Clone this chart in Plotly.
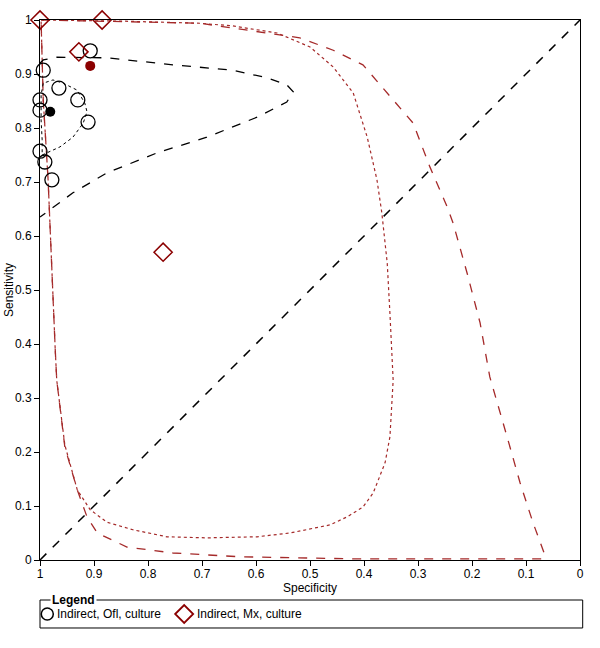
import plotly.graph_objects as go

# Study points: Indirect, Ofl, culture
ofl_spec = [0.907, 0.994, 0.965, 0.930, 1.000, 1.000, 0.911, 1.000, 0.991, 0.978]
ofl_sens = [0.943, 0.907, 0.874, 0.852, 0.852, 0.833, 0.811, 0.757, 0.737, 0.704]
ofl_sum_spec = [0.981]
ofl_sum_sens = [0.830]

# Study points: Indirect, Mx, culture
mx_spec = [1.000, 0.885, 0.928, 0.772]
mx_sens = [1.000, 1.000, 0.941, 0.570]
mx_sum_spec = [0.907]
mx_sum_sens = [0.915]

# Ofl prediction region (dashed) and confidence region (dotted)
ofl_pred_spec = [1.000, 0.994, 0.969, 0.876, 0.754, 0.643, 0.580, 0.543, 0.531,
                 0.543, 0.598, 0.691, 0.783, 0.876, 0.939, 0.981, 1.000]
ofl_pred_sens = [0.920, 0.926, 0.931, 0.930, 0.917, 0.907, 0.893, 0.880, 0.867,
                 0.848, 0.820, 0.783, 0.754, 0.717, 0.680, 0.648, 0.635]
ofl_conf_spec = [0.996, 0.987, 0.963, 0.939, 0.920, 0.913, 0.917, 0.931, 0.957,
                 0.976, 0.994, 0.998, 0.998, 0.996, 0.996]
ofl_conf_sens = [0.750, 0.754, 0.765, 0.783, 0.809, 0.830, 0.846, 0.870, 0.883,
                 0.889, 0.883, 0.861, 0.815, 0.778, 0.750]

# Mx confidence region (dotted)
mx_conf_spec = [0.998, 0.852, 0.704, 0.643, 0.561, 0.500, 0.457, 0.420, 0.394, 0.376,
                0.367, 0.357, 0.352, 0.346, 0.352, 0.361, 0.383, 0.402, 0.431, 0.463,
                0.537, 0.598, 0.691, 0.765, 0.828, 0.876, 0.907, 0.931, 0.954, 0.969,
                0.972, 0.981, 0.985, 0.994, 0.998]
mx_conf_sens = [1.000, 0.998, 0.994, 0.989, 0.976, 0.950, 0.913, 0.865, 0.783, 0.704,
                0.643, 0.550, 0.457, 0.333, 0.228, 0.180, 0.124, 0.098, 0.080, 0.065,
                0.050, 0.043, 0.041, 0.043, 0.056, 0.070, 0.093, 0.130, 0.213, 0.333,
                0.394, 0.598, 0.704, 0.852, 1.000]

# Mx prediction region (dashed)
mx_pred_spec = [0.998, 0.704, 0.519, 0.457, 0.402, 0.357, 0.309, 0.278, 0.246, 0.235,
                0.209, 0.185, 0.167, 0.135, 0.111, 0.087, 0.065, 0.069, 0.413, 0.630,
                0.754, 0.839, 0.894, 0.913, 0.931, 0.954, 0.969, 0.972, 0.981, 0.985,
                0.994, 0.998]
mx_pred_sens = [1.000, 0.994, 0.967, 0.944, 0.917, 0.865, 0.809, 0.728, 0.654, 0.624,
                0.531, 0.439, 0.339, 0.228, 0.143, 0.069, 0.009, 0.002, 0.002, 0.006,
                0.013, 0.024, 0.050, 0.080, 0.130, 0.209, 0.333, 0.394, 0.598, 0.704,
                0.852, 1.000]

diag_spec = [1, 0]
diag_sens = [0, 1]

legend_labels = ["Indirect, Ofl, culture", "Indirect, Mx, culture"]
x_title = "Specificity"
y_title = "Sensitivity"

RED = "#A52A2A"
DRED = "#8B0000"
FONT = "Liberation Sans, Arial, sans-serif"
FS = 12

fig = go.Figure()

fig.add_trace(go.Scatter(x=diag_spec, y=diag_sens, mode="lines",
                         line=dict(color="black", width=1.5, dash="dash"),
                         showlegend=False, hoverinfo="skip"))

fig.add_trace(go.Scatter(x=mx_pred_spec, y=mx_pred_sens, mode="lines",
                         line=dict(color=RED, width=1.3, dash="dash"),
                         showlegend=False, hoverinfo="skip"))
fig.add_trace(go.Scatter(x=mx_conf_spec, y=mx_conf_sens, mode="lines",
                         line=dict(color=RED, width=1.2, dash="dot"),
                         showlegend=False, hoverinfo="skip"))
fig.add_trace(go.Scatter(x=ofl_pred_spec, y=ofl_pred_sens, mode="lines",
                         line=dict(color="black", width=1.3, dash="dash"),
                         showlegend=False, hoverinfo="skip"))
fig.add_trace(go.Scatter(x=ofl_conf_spec, y=ofl_conf_sens, mode="lines",
                         line=dict(color="black", width=1, dash="dot"),
                         showlegend=False, hoverinfo="skip"))

fig.add_trace(go.Scatter(x=ofl_spec, y=ofl_sens, mode="markers",
                         name=legend_labels[0], showlegend=False,
                         marker=dict(symbol="circle-open", size=14,
                                     color="black", line=dict(width=1.3)),
                         cliponaxis=False))
fig.add_trace(go.Scatter(x=mx_spec, y=mx_sens, mode="markers",
                         name=legend_labels[1], showlegend=False,
                         marker=dict(symbol="diamond-open", size=14,
                                     color=DRED, line=dict(width=1.5)),
                         cliponaxis=False))
fig.add_trace(go.Scatter(x=ofl_sum_spec, y=ofl_sum_sens, mode="markers",
                         marker=dict(symbol="circle", size=10, color="black"),
                         showlegend=False, cliponaxis=False))
fig.add_trace(go.Scatter(x=mx_sum_spec, y=mx_sum_sens, mode="markers",
                         marker=dict(symbol="circle", size=10, color=DRED),
                         showlegend=False, cliponaxis=False))

axis_common = dict(showgrid=False, zeroline=False, ticks="outside", ticklen=5,
                   tickwidth=1, tickcolor="black", linecolor="black", linewidth=1,
                   mirror=True, dtick=0.1, tick0=0, automargin=False,
                   tickfont=dict(family=FONT, size=FS, color="black"))

# Custom legend (box with title embedded in the border, symbol + label pairs)
LEG_Y = -0.1                      # centre line of legend entries (paper units)
shapes = [
    dict(type="rect", xref="paper", yref="paper",
         x0=0, x1=1.005, y0=-0.1259, y1=-0.0741,
         line=dict(color="black", width=1), fillcolor="rgba(0,0,0,0)"),
    dict(type="circle", xref="paper", yref="paper",
         xsizemode="pixel", ysizemode="pixel", xanchor=0.0135, yanchor=LEG_Y,
         x0=-6, x1=6, y0=-6, y1=6,
         line=dict(color="black", width=1.5)),
    dict(type="path", xref="paper", yref="paper",
         xsizemode="pixel", ysizemode="pixel", xanchor=0.267, yanchor=LEG_Y,
         path="M -9 0 L 0 9 L 9 0 L 0 -9 Z",
         line=dict(color=DRED, width=1.8)),
]
annotations = [
    dict(text="<b>Legend</b>", xref="paper", yref="paper",
         x=0.018, y=-0.0741, xanchor="left", yanchor="middle",
         showarrow=False, bgcolor="white", borderpad=1,
         font=dict(family=FONT, size=FS, color="black")),
    dict(text=legend_labels[0], xref="paper", yref="paper",
         x=0.027, y=LEG_Y, xanchor="left", yanchor="middle", showarrow=False,
         font=dict(family=FONT, size=FS, color="black")),
    dict(text=legend_labels[1], xref="paper", yref="paper",
         x=0.287, y=LEG_Y, xanchor="left", yanchor="middle", showarrow=False,
         font=dict(family=FONT, size=FS, color="black")),
    # axis titles
    dict(text=x_title, xref="paper", yref="paper", x=0.5, y=-0.0515,
         xanchor="center", yanchor="middle", showarrow=False,
         font=dict(family=FONT, size=FS, color="black")),
    dict(text=y_title, xref="paper", yref="paper", x=-0.0574, y=0.5,
         xanchor="center", yanchor="middle", showarrow=False, textangle=-90,
         font=dict(family=FONT, size=FS, color="black")),
]

fig.update_layout(
    width=600, height=648,
    margin=dict(l=40, r=20, t=20, b=88),
    paper_bgcolor="white", plot_bgcolor="white",
    font=dict(family=FONT, size=FS, color="black"),
    showlegend=False,
    xaxis=dict(range=[1, 0], ticklabelstandoff=-2, **axis_common),
    yaxis=dict(range=[0, 1], **axis_common),
    shapes=shapes,
    annotations=annotations,
)

fig.write_html("out.html", config={"displayModeBar": False},
               post_script="document.body.style.margin='0px';document.body.style.overflow='hidden';")
